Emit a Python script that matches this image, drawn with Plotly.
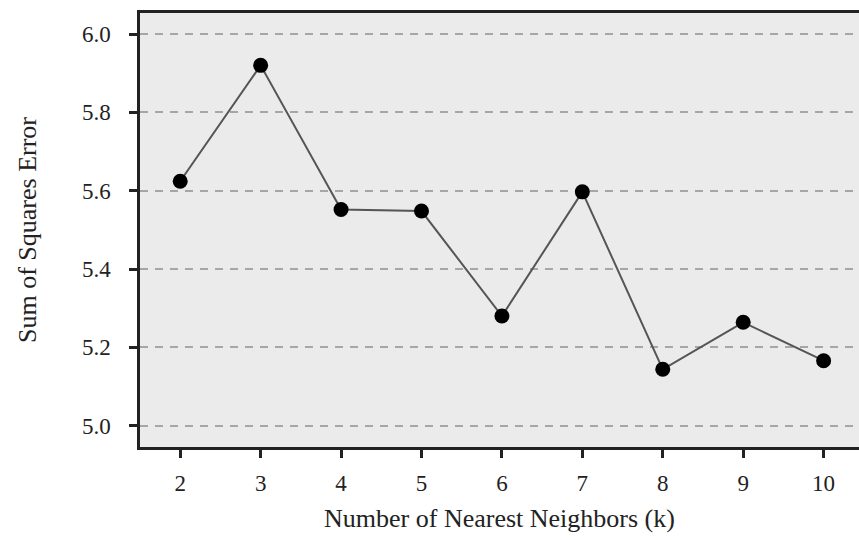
import plotly.graph_objects as go

k_values = [2, 3, 4, 5, 6, 7, 8, 9, 10]
sse_values = [5.624, 5.920, 5.552, 5.548, 5.280, 5.597, 5.144, 5.264, 5.166]
y_ticks = [5.0, 5.2, 5.4, 5.6, 5.8, 6.0]
y_tick_labels = ["5.0", "5.2", "5.4", "5.6", "5.8", "6.0"]

font_family = "Liberation Serif, DejaVu Serif, serif"

fig = go.Figure()
fig.add_trace(go.Scatter(
    x=k_values, y=sse_values, mode="lines+markers",
    line=dict(color="#555555", width=2),
    marker=dict(color="black", size=15, line=dict(width=0)),
    showlegend=False,
))

fig.update_layout(
    width=859, height=540,
    margin=dict(l=140, r=0, t=13, b=93),
    paper_bgcolor="white",
    plot_bgcolor="#ebebeb",
    font=dict(family=font_family, color="#222", size=23),
)
fig.update_xaxes(
    range=[1.5, 10.44], tickvals=k_values, ticktext=[str(k) for k in k_values],
    showgrid=False, zeroline=False,
    showline=True, linecolor="#222", linewidth=2.5, mirror=True,
    ticks="outside", ticklen=8, tickwidth=2.5, tickcolor="#222",
    tickfont=dict(size=23, family=font_family),
    ticklabelstandoff=6,
    title=dict(text="Number of Nearest Neighbors (k)", font=dict(size=26, family=font_family), standoff=14),
)
fig.update_yaxes(
    range=[4.9457, 6.0536], tickvals=y_ticks, ticktext=y_tick_labels,
    showgrid=True, gridcolor="#a6a6a6", griddash="8px,7px", gridwidth=2,
    zeroline=False,
    showline=True, linecolor="#222", linewidth=2.5,
    ticks="outside", ticklen=8, tickwidth=2.5, tickcolor="#222",
    tickfont=dict(size=23, family=font_family),
    ticklabelstandoff=14,
    title=dict(text="Sum of Squares Error", font=dict(size=26, family=font_family), standoff=38),
)

fig.write_html(
    "out.html",
    config={"displayModeBar": False},
    post_script="document.body.style.margin='0';document.body.style.overflow='hidden';",
)
